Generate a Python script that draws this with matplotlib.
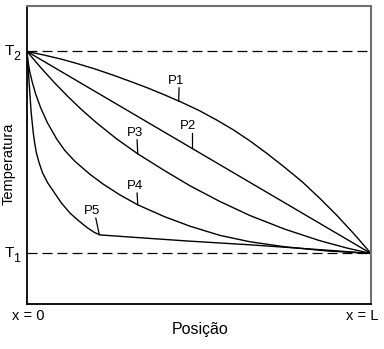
import numpy as np
import matplotlib
matplotlib.use("Agg")
import matplotlib.pyplot as plt

plt.rcParams['font.family'] = ['Liberation Sans', 'DejaVu Sans']

# temperature profiles, position x/L against (T - T1)/(T2 - T1)
p1_x = [0, 0.05, 0.1, 0.15, 0.2, 0.25, 0.3, 0.35, 0.4, 0.45, 0.5,
        0.55, 0.6, 0.65, 0.7, 0.75, 0.8, 0.85, 0.9, 0.95, 1.0]
p1_y = [1, 0.982, 0.962, 0.938, 0.912, 0.883, 0.852, 0.82, 0.785, 0.748, 0.708,
        0.662, 0.612, 0.555, 0.492, 0.425, 0.355, 0.275, 0.19, 0.098, 0]

p2_x = [0, 1.0]
p2_y = [1, 0]

p3_x = [0, 0.04, 0.08, 0.12, 0.16, 0.2, 0.26, 0.323, 0.4, 0.474, 0.56,
        0.648, 0.75, 0.85, 0.93, 1.0]
p3_y = [1, 0.92, 0.845, 0.775, 0.71, 0.65, 0.568, 0.492, 0.41, 0.335, 0.258,
        0.188, 0.12, 0.064, 0.027, 0]

p4_x = [0, 0.003, 0.008, 0.015, 0.025, 0.04, 0.06, 0.087, 0.11, 0.14, 0.183,
        0.22, 0.27, 0.323, 0.4, 0.474, 0.56, 0.648, 0.75, 0.87, 1.0]
p4_y = [1, 0.95, 0.9, 0.85, 0.79, 0.72, 0.645, 0.565, 0.51, 0.455, 0.392,
        0.345, 0.29, 0.24, 0.182, 0.135, 0.09, 0.058, 0.033, 0.013, 0]

p5_x = [0, 0.002, 0.004, 0.006, 0.008, 0.01, 0.012, 0.015, 0.018, 0.022, 0.027,
        0.035, 0.045, 0.06, 0.076, 0.1, 0.125, 0.15, 0.175, 0.195, 0.212,
        0.328, 0.474, 0.648, 0.8, 0.9, 1.0]
p5_y = [1, 0.95, 0.9, 0.85, 0.8, 0.75, 0.7, 0.65, 0.6, 0.55, 0.5,
        0.45, 0.4, 0.35, 0.31, 0.25, 0.2, 0.162, 0.128, 0.105, 0.092,
        0.078, 0.061, 0.043, 0.025, 0.013, 0]

profiles = [("P1", p1_x, p1_y), ("P2", p2_x, p2_y), ("P3", p3_x, p3_y),
            ("P4", p4_x, p4_y), ("P5", p5_x, p5_y)]

# label centre/bottom, top of the leader line, and where the leader meets the curve
labels = {
    "P1": dict(pos=(0.433, 0.826), lead=0.442, hit=0.441),
    "P2": dict(pos=(0.467, 0.603), lead=0.479, hit=0.479),
    "P3": dict(pos=(0.314, 0.568), lead=0.32, hit=0.322),
    "P4": dict(pos=(0.314, 0.305), lead=0.32, hit=0.322),
    "P5": dict(pos=(0.189, 0.181), lead=0.2, hit=0.21),
}

fig = plt.figure(figsize=(3.84, 3.49), dpi=100)
ax = fig.add_axes([27 / 384, 1 - 304 / 349, 344 / 384, 298 / 349])
ax.set_xlim(0, 1)
ax.set_ylim(-0.25, 1.225)

for name, xs, ys in profiles:
    ax.plot(xs, ys, color='black', lw=1.0, solid_joinstyle='round')
    lab = labels[name]
    tx, ty = lab['pos']
    cy = np.interp(lab['hit'], xs, ys)
    ax.plot([lab['lead'], lab['hit']], [ty - 0.006, cy], color='black', lw=0.9)
    ax.text(tx, ty, name, fontsize=9.5, ha='center', va='bottom')

# reference temperatures
for level in (0, 1):
    ax.plot([0, 1], [level, level], color='black', lw=0.9, dashes=(8, 4), clip_on=False)

for level, sub in ((1, '2'), (0, '1')):
    ax.text(-0.052, level, 'T', fontsize=11, ha='center', va='center')
    ax.text(-0.031, level - 0.025, sub, fontsize=9, ha='center', va='center')

ax.text(0.003, -0.04, 'x = 0', transform=ax.transAxes, fontsize=10.5, ha='center', va='center')
ax.text(0.975, -0.04, 'x = L', transform=ax.transAxes, fontsize=10.5, ha='center', va='center')
ax.text(0.503, -0.085, 'Posição', transform=ax.transAxes, fontsize=11.5, ha='center', va='center')
ax.text(-0.052, 0.47, 'Temperatura', transform=ax.transAxes, fontsize=10.5,
        ha='center', va='center', rotation=90)

ax.set_xticks([])
ax.set_yticks([])
for side in ('left', 'bottom'):
    ax.spines[side].set_color('black')
    ax.spines[side].set_linewidth(1.3)
for side in ('top', 'right'):
    ax.spines[side].set_color('#707070')
    ax.spines[side].set_linewidth(1.5)

fig.savefig('out.png', dpi=100)
